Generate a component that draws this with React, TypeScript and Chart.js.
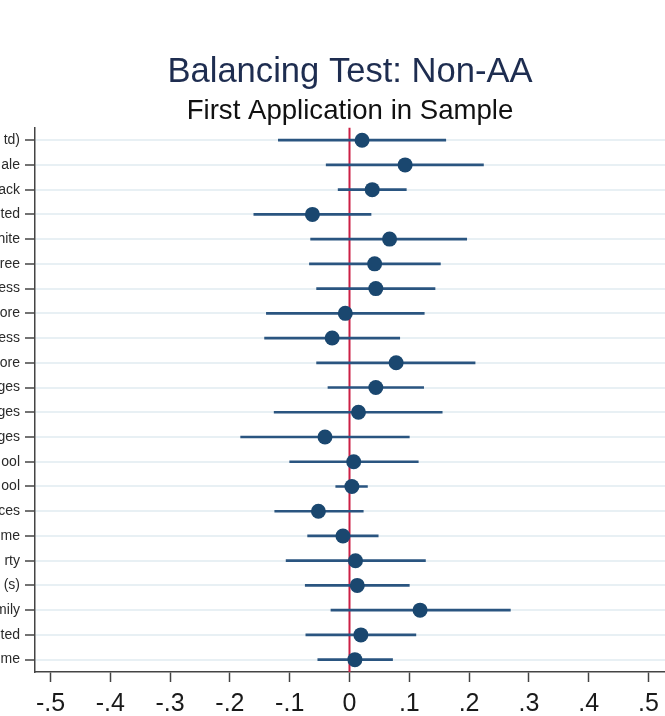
import React, { useEffect, useRef } from "react";
import { Chart, registerables } from "chart.js";

Chart.register(...registerables);

const ROW_LABELS = ["td)", "ale", "ack", "ted", "hite", "ree", "ess", "ore", "ess", "ore", "ges", "ges", "ges", "ool", "ool", "ces", "me", "rty", "(s)", "mily", "ted", "me"];
const ESTIMATES = [0.021, 0.093, 0.038, -0.062, 0.067, 0.042, 0.044, -0.007, -0.029, 0.078, 0.044, 0.015, -0.041, 0.007, 0.004, -0.052, -0.011, 0.010, 0.013, 0.118, 0.019, 0.009];
const LOWER = [-0.119, -0.039, -0.019, -0.160, -0.065, -0.067, -0.055, -0.139, -0.142, -0.055, -0.036, -0.126, -0.182, -0.100, -0.023, -0.125, -0.070, -0.106, -0.074, -0.031, -0.073, -0.053];
const UPPER = [0.161, 0.224, 0.095, 0.036, 0.196, 0.152, 0.143, 0.125, 0.084, 0.210, 0.124, 0.155, 0.100, 0.115, 0.030, 0.023, 0.048, 0.127, 0.100, 0.269, 0.111, 0.072];
const X_TICK_VALUES = [-0.5, -0.4, -0.3, -0.2, -0.1, 0, 0.1, 0.2, 0.3, 0.4, 0.5];
const X_TICK_LABELS = ["-.5", "-.4", "-.3", "-.2", "-.1", "0", ".1", ".2", ".3", ".4", ".5"];
const REFERENCE_VALUE = 0;
const TITLE = "Balancing Test: Non-AA";
const SUBTITLE = "First Application in Sample";

const FONT = "'Liberation Sans', Arial, sans-serif";

export default function App() {
  const ref = useRef<HTMLCanvasElement | null>(null);

  useEffect(() => {
    if (!ref.current) return;
    const refLine = {
      id: "refLine",
      beforeDatasetsDraw(chart: any) {
        const { ctx, chartArea, scales } = chart;
        const x = scales.x.getPixelForValue(REFERENCE_VALUE);
        ctx.save();
        ctx.strokeStyle = "#cc1f45";
        ctx.lineWidth = 2;
        ctx.beginPath();
        ctx.moveTo(x, chartArea.top);
        ctx.lineTo(x, chartArea.bottom);
        ctx.stroke();
        ctx.restore();
      },
    };
    const chart = new Chart(ref.current, {
      type: "bar",
      data: {
        labels: ROW_LABELS,
        datasets: [
          {
            type: "scatter" as any,
            data: ESTIMATES.map((v, i) => ({ x: v, y: i })),
            backgroundColor: "#1a476f",
            borderWidth: 0,
            pointRadius: 7.5,
            order: 0,
          } as any,
          {
            type: "bar",
            data: LOWER.map((l, i) => [l, UPPER[i]]),
            backgroundColor: "#2a5580",
            borderWidth: 0,
            barThickness: 2,
            order: 1,
          } as any,
        ],
      },
      options: {
        indexAxis: "y",
        responsive: false,
        devicePixelRatio: 1,
        animation: false,
        layout: { autoPadding: false, padding: { top: 52, left: 0, right: 0, bottom: 0 } },
        plugins: {
          legend: { display: false },
          tooltip: { enabled: false },
          title: {
            display: true,
            text: TITLE,
            color: "#1e2d50",
            font: { family: FONT, size: 34.6, weight: "normal", lineHeight: 1.2 },
            padding: { top: 0, bottom: 2 },
          },
          subtitle: {
            display: true,
            text: SUBTITLE,
            color: "#111111",
            font: { family: FONT, size: 27.6, weight: "normal", lineHeight: 1.17 },
            padding: { top: 0, bottom: 0 },
          },
        },
        scales: {
          x: {
            type: "linear",
            position: "bottom",
            min: (35 - 349.5) / 598,
            max: (700 - 349.5) / 598,
            afterBuildTicks(scale: any) {
              scale.ticks = X_TICK_VALUES.map((v) => ({ value: v }));
            },
            afterFit(scale: any) {
              scale.height = 44;
              scale.paddingLeft = 0;
              scale.paddingRight = 0;
            },
            ticks: {
              autoSkip: false,
              maxRotation: 0,
              padding: 7,
              color: "#1a1a1a",
              font: { family: FONT, size: 25 },
              callback: (value: any) => {
                const idx = X_TICK_VALUES.findIndex((t) => Math.abs(t - Number(value)) < 1e-9);
                return idx >= 0 ? X_TICK_LABELS[idx] : "";
              },
            },
            grid: {
              drawOnChartArea: false,
              drawTicks: true,
              tickLength: 10,
              tickColor: "#444444",
              tickWidth: 1.5,
            },
            border: { display: true, color: "#444444", width: 1.5 },
          },
          y: {
            type: "category",
            position: "left",
            offset: true,
            afterFit(scale: any) {
              scale.width = 35;
              scale.paddingTop = 0;
              scale.paddingBottom = 0;
            },
            ticks: {
              autoSkip: false,
              padding: 5,
              color: "#2a2a2a",
              font: { family: FONT, size: 14 },
            },
            grid: {
              offset: false,
              color: "#e8f0f4",
              lineWidth: 2,
              drawTicks: true,
              tickLength: 10,
              tickColor: "#444444",
              tickWidth: 1.5,
            },
            border: { display: true, color: "#444444", width: 1.5 },
          },
        },
      } as any,
      plugins: [refLine],
    });
    return () => chart.destroy();
  }, []);

  return (
    <div style={{ position: "absolute", left: 0, top: 0, width: 665, height: 716, overflow: "hidden", background: "#ffffff" }}>
      <canvas ref={ref} width={700} height={716} style={{ display: "block", width: 700, height: 716 }} />
    </div>
  );
}
